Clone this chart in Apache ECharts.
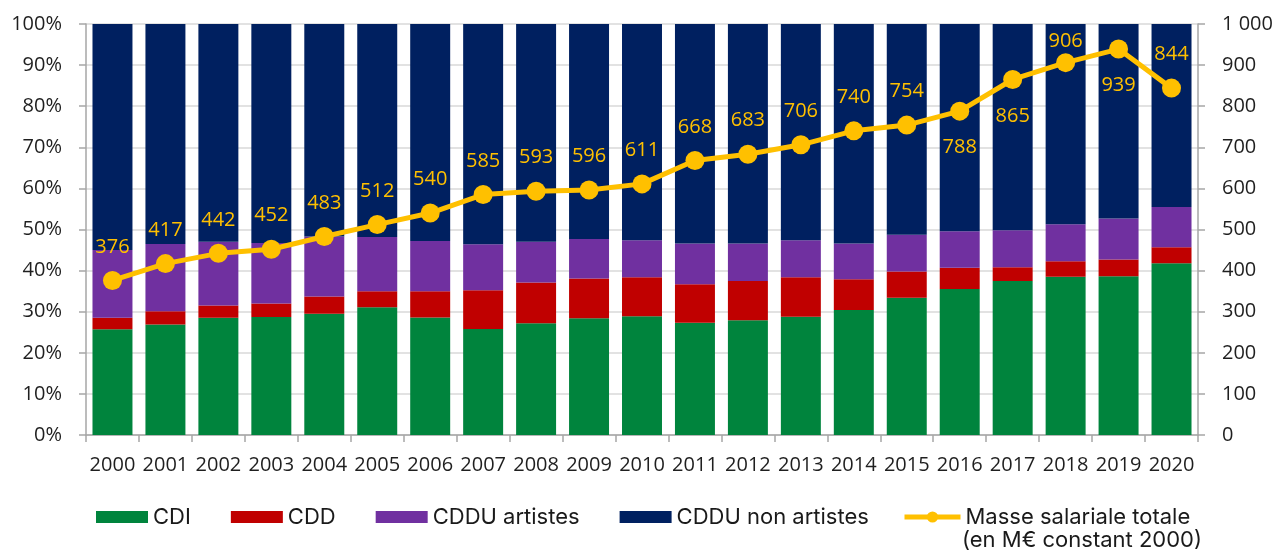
<!DOCTYPE html>
<html>
<head>
<meta charset="utf-8">
<title>Masse salariale par type de contrat</title>
<script src="https://cdn.jsdelivr.net/npm/echarts@6/dist/echarts.min.js"></script>
<style>
  html, body { margin: 0; padding: 0; background: #ffffff; }
  #chart { width: 1277px; height: 551px; }
</style>
</head>
<body>
<div id="chart"></div>
<script>
// Years
const years = ['2000','2001','2002','2003','2004','2005','2006','2007','2008','2009','2010',
               '2011','2012','2013','2014','2015','2016','2017','2018','2019','2020'];

// Share of the wage bill by contract type (%)
const cdi = [25.7, 26.9, 28.5, 28.7, 29.5, 31.1, 28.6, 25.8, 27.2, 28.4, 28.9,
             27.3, 27.9, 28.8, 30.4, 33.4, 35.5, 37.5, 38.5, 38.6, 41.8];
const cdd = [2.8, 3.2, 3.0, 3.3, 4.2, 3.9, 6.4, 9.4, 9.9, 9.7, 9.5,
             9.4, 9.6, 9.6, 7.5, 6.4, 5.2, 3.3, 3.8, 4.1, 3.9];
const cdduArtistes = [16.5, 16.4, 15.5, 14.7, 14.6, 13.2, 12.2, 11.2, 9.9, 9.6, 9.0,
                      9.9, 9.1, 9.0, 8.7, 8.9, 8.9, 9.0, 9.0, 10.0, 9.8];
const cdduNonArtistes = [55.0, 53.5, 53.0, 53.3, 51.7, 51.8, 52.8, 53.6, 53.0, 52.3, 52.6,
                         53.4, 53.4, 52.6, 53.4, 51.3, 50.4, 50.2, 48.7, 47.3, 44.5];

// Total wage bill (M€, constant 2000)
const masseSalariale = [376, 417, 442, 452, 483, 512, 540, 585, 593, 596, 611,
                        668, 683, 706, 740, 754, 788, 865, 906, 939, 844];

// Tick labels
const leftTicks = [0, 10, 20, 30, 40, 50, 60, 70, 80, 90, 100];
const rightTicks = [0, 100, 200, 300, 400, 500, 600, 700, 800, 900, 1000];

// Label placement for the wage-bill line
const labelsBelow = ['2016', '2017', '2019'];
const labelsNear = ['2018'];

const COLORS = {
  cdi: '#00843D',
  cdd: '#C00000',
  artistes: '#7030A0',
  nonArtistes: '#002060',
  masse: '#FFC000'
};

const axisFont = { fontFamily: '"Open Sans", sans-serif', fontSize: 20, color: '#1f1f1f' };
const legendFont = { fontFamily: 'Inter, sans-serif', fontSize: 22, color: '#1a1a1a' };

function barSeries(name, data, color) {
  return {
    name: name,
    type: 'bar',
    stack: 'share',
    data: data,
    barCategoryGap: '24.5%',
    itemStyle: { color: color },
    emphasis: { disabled: true }
  };
}

const lineData = masseSalariale.map((v, i) => {
  const yr = years[i];
  const item = { value: v };
  if (labelsBelow.includes(yr)) {
    item.label = { position: 'bottom', distance: 17 };
  } else if (labelsNear.includes(yr)) {
    item.label = { position: 'top', distance: 2 };
  }
  return item;
});

const fmtThousands = v => {
  const s = String(v);
  return s.length > 3 ? s.slice(0, s.length - 3) + '\u00a0' + s.slice(-3) : s;
};

const chart = echarts.init(document.getElementById('chart'), null, { renderer: 'canvas' });

chart.setOption({
  animation: false,
  backgroundColor: '#ffffff',
  grid: { left: 86, right: 79, top: 24, bottom: 116, containLabel: false },
  legend: [
    {
      data: ['CDI', 'CDD', 'CDDU artistes', 'CDDU non artistes'],
      left: 96,
      top: 506,
      padding: 0,
      itemWidth: 52,
      itemHeight: 12,
      itemGap: 40,
      icon: 'rect',
      textStyle: legendFont,
      selectedMode: false
    },
    {
      data: ['Masse salariale totale'],
      left: 902,
      top: 506,
      padding: 0,
      itemWidth: 56,
      itemHeight: 14,
      lineStyle: { width: 5, color: COLORS.masse },
      itemStyle: { color: COLORS.masse },
      textStyle: legendFont,
      selectedMode: false
    }
  ],
  graphic: [
    {
      type: 'text',
      left: 962,
      top: 529,
      style: {
        text: '(en M€ constant 2000)',
        font: '22px Inter, sans-serif',
        fill: '#1a1a1a'
      }
    }
  ],
  xAxis: {
    type: 'category',
    data: years,
    boundaryGap: true,
    axisLine: { lineStyle: { color: '#A6A6A6', width: 1.5 } },
    axisTick: { show: true, alignWithLabel: false, length: 7, lineStyle: { color: '#A6A6A6', width: 1.5 } },
    axisLabel: Object.assign({ margin: 20, interval: 0 }, axisFont),
    splitLine: { show: false }
  },
  yAxis: [
    {
      type: 'value',
      min: leftTicks[0],
      max: leftTicks[leftTicks.length - 1],
      interval: leftTicks[1] - leftTicks[0],
      axisLine: { show: true, lineStyle: { color: '#A6A6A6', width: 1.5 } },
      axisTick: { show: true, length: 7, lineStyle: { color: '#A6A6A6', width: 1.5 } },
      axisLabel: Object.assign({ margin: 24, formatter: '{value}%' }, axisFont),
      splitLine: { show: true, lineStyle: { color: '#D9D9D9', width: 1.5 } }
    },
    {
      type: 'value',
      position: 'right',
      min: rightTicks[0],
      max: rightTicks[rightTicks.length - 1],
      interval: rightTicks[1] - rightTicks[0],
      axisLine: { show: true, lineStyle: { color: '#A6A6A6', width: 1.5 } },
      axisTick: { show: true, length: 7, lineStyle: { color: '#A6A6A6', width: 1.5 } },
      axisLabel: Object.assign({ margin: 24, formatter: fmtThousands }, axisFont),
      splitLine: { show: false }
    }
  ],
  series: [
    barSeries('CDI', cdi, COLORS.cdi),
    barSeries('CDD', cdd, COLORS.cdd),
    barSeries('CDDU artistes', cdduArtistes, COLORS.artistes),
    barSeries('CDDU non artistes', cdduNonArtistes, COLORS.nonArtistes),
    {
      name: 'Masse salariale totale',
      type: 'line',
      yAxisIndex: 1,
      data: lineData,
      z: 10,
      symbol: 'circle',
      symbolSize: 19,
      lineStyle: { color: COLORS.masse, width: 5 },
      itemStyle: { color: COLORS.masse },
      label: {
        show: true,
        position: 'top',
        distance: 14,
        color: COLORS.masse,
        fontFamily: '"Open Sans", sans-serif',
        fontSize: 20
      },
      emphasis: { disabled: true }
    }
  ]
});
</script>
</body>
</html>
